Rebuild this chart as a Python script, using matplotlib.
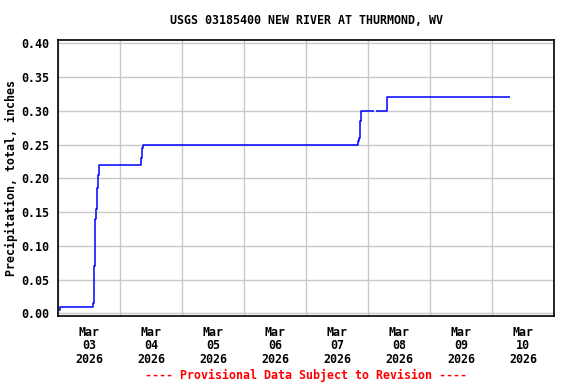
import numpy as np
import pandas as pd
import matplotlib
matplotlib.use("Agg")
import matplotlib.pyplot as plt

# hours after 2026-03-03 00:00, cumulative precipitation (in)
hours = [0.4, 0.6, 13.7, 14.0, 14.4, 14.8, 15.2, 15.6, 16.0,
         32.2, 32.6, 33.0, 116.1, 116.5, 117.0, 117.3, 122.2, 123.2, 127.5, 174.9]
precip = [0.005, 0.01, 0.015, 0.07, 0.14, 0.155, 0.185, 0.205, 0.22,
          0.23, 0.245, 0.25, 0.255, 0.26, 0.285, 0.30, np.nan, 0.30, 0.32, 0.32]
yticks = [0.00, 0.05, 0.10, 0.15, 0.20, 0.25, 0.30, 0.35, 0.40]
start = pd.Timestamp("2026-03-03")
end = pd.Timestamp("2026-03-11")

title = "USGS 03185400 NEW RIVER AT THURMOND, WV"
ylabel = "Precipitation, total, inches"
footer = "---- Provisional Data Subject to Revision ----"

mono = "DejaVu Sans Mono"
fs = 8.4

t = start + pd.to_timedelta(hours, unit="h")

fig = plt.figure(figsize=(5.76, 3.84), dpi=100)
ax = fig.add_axes([58 / 576, 1 - 316 / 384, 496 / 576, 276 / 384])
ax.plot(t, precip, color="#0000ff", lw=1.1, drawstyle="steps-post",
        solid_capstyle="butt")

ax.set_xlim(start, end)
ax.set_ylim(-0.004, 0.405)
ax.set_yticks(yticks)
ax.set_yticklabels(["%.2f" % v for v in yticks], family=mono, weight="bold", fontsize=fs)

days = pd.date_range(start, end, freq="D")
ax.set_xticks(days)
ax.set_xticklabels([])
noons = days[:-1] + pd.Timedelta(hours=12)
ax.set_xticks(noons, minor=True)
ax.set_xticklabels([d.strftime("%b\n%d\n%Y") for d in noons], minor=True,
                   family=mono, weight="bold", fontsize=fs, linespacing=1.05)
ax.tick_params(axis="both", which="both", length=0)
ax.tick_params(axis="x", which="minor", pad=7)
ax.tick_params(axis="y", pad=6)

ax.grid(True, which="major", color="#c8c8c8", lw=1.0)
ax.set_axisbelow(True)
for s in ax.spines.values():
    s.set_color("black")
    s.set_linewidth(1.2)

ax.set_ylabel(ylabel, family=mono, weight="bold", fontsize=fs, labelpad=3)
fig.text(306 / 576, 1 - 20 / 384, title, ha="center", va="center",
         family=mono, weight="bold", fontsize=fs)
fig.text(306 / 576, 1 - 375 / 384, footer, ha="center", va="center",
         family=mono, weight="bold", fontsize=fs, color="red")

fig.savefig("out.png", dpi=100)
